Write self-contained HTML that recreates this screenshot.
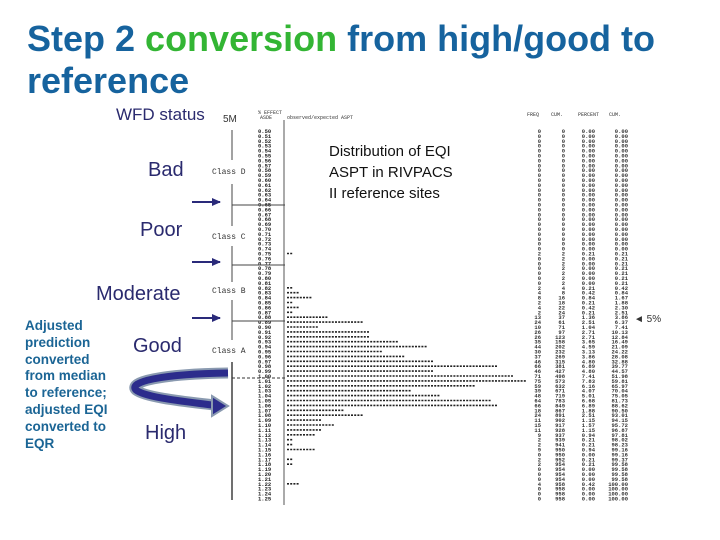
<!DOCTYPE html>
<html><head><meta charset="utf-8"><style>
body{margin:0;width:720px;height:540px;background:#fff;overflow:hidden;font-family:"Liberation Sans",sans-serif;position:relative}
.a{position:absolute;white-space:nowrap}
.t{font-weight:bold;font-size:36px;color:#16639e;line-height:42px}
.w{color:#2a2a6e;font-size:20px}
</style></head><body>
<div class="a t" style="left:27px;top:18px">Step 2 <span style="color:#33b534">conversion</span> from high/good to<br>reference</div>
<div class="a w" style="left:116px;top:105px;font-size:17px">WFD status</div>
<div class="a w" style="left:148px;top:159px">Bad</div>
<div class="a w" style="left:140px;top:219px">Poor</div>
<div class="a w" style="left:96px;top:283px">Moderate</div>
<div class="a w" style="left:133px;top:335px">Good</div>
<div class="a w" style="left:145px;top:422px">High</div>
<div class="a" style="left:25px;top:318px;font-size:13.5px;line-height:16.8px;font-weight:bold;color:#1b6595">Adjusted<br>prediction<br>converted<br>from median<br>to reference;<br>adjusted EQI<br>converted to<br>EQR</div>
<div class="a" style="left:329px;top:141px;font-size:15px;line-height:21px;color:#111">Distribution of EQI<br>ASPT in RIVPACS<br>II reference sites</div>
<div class="a" style="left:634px;top:314px;font-size:10px;color:#333">◄ 5%</div>
<svg id="c" class="a" style="left:0;top:0" width="720" height="540"></svg>
<script>
const values=[];for(let i=50;i<=125;i++)values.push((i/100).toFixed(2));
const counts=[0,0,0,0,0,0,0,0,0,0,0,0,0,0,0,0,0,0,0,0,0,0,0,0,0,2,0,0,0,0,0,0,2,4,8,2,4,2,13,24,10,26,26,35,44,30,37,46,66,46,71,75,59,39,48,64,66,18,24,11,15,11,9,2,2,9,0,2,2,0,0,0,4,0,0,0];
const classNames=["Class D","Class C","Class B","Class A"];
const classY=[171,236,290,350];
const arrowY=[202,262,318];
const svg=document.getElementById('c');const NS='http://www.w3.org/2000/svg';
function mk(t,a,p){const e=document.createElementNS(NS,t);for(const k in a)e.setAttribute(k,a[k]);(p||svg).appendChild(e);return e;}
const y0=131,rowH=4.9,x0=287,starW=3.2;
const yS=i=>y0+i*rowH, xS=c=>x0+c*starW;
svg.innerHTML='<defs><marker id="ah" markerUnits="userSpaceOnUse" markerWidth="9" markerHeight="8" refX="8" refY="4" orient="auto"><path d="M0,0L9,4L0,8z" fill="#2a2a7a"/></marker></defs>';
let h=mk('text',{x:258,y:114,'font-size':5,'font-family':'Liberation Mono',fill:'#333'});h.textContent='% EFFECT';
h=mk('text',{x:260,y:119,'font-size':5,'font-family':'Liberation Mono',fill:'#333'});h.textContent='ASDE';
h=mk('text',{x:287,y:119,'font-size':5,'font-family':'Liberation Mono',fill:'#333'});h.textContent='observed/expected ASPT';
const hdr=[['FREQ',527],['CUM.',551],['PERCENT',578],['CUM.',609]];
hdr.forEach(d=>{const e=mk('text',{x:d[1],y:116,'font-size':5,'font-family':'Liberation Mono',fill:'#333'});e.textContent=d[0];
});
mk('line',{x1:284,y1:120,x2:284,y2:505,stroke:'#555','stroke-width':1});
const total=counts.reduce((a,b)=>a+b,0);let cum=0;
values.forEach((v,i)=>{
 const y=yS(i);
 const t=mk('text',{x:258,y:y+2,'font-size':5.5,'font-family':'Liberation Mono','font-weight':'bold',fill:'#222'});t.textContent=v;
 
 const c=counts[i];cum+=c;
 if(c>0){const b=mk('line',{x1:xS(0),y1:y,x2:xS(c),y2:y,stroke:'#222','stroke-width':1.6,'stroke-dasharray':'2 1.2'});
  }
 const cols=[[c,541],[cum,565],[(100*c/total).toFixed(2),595],[(100*cum/total).toFixed(2),628]];
 cols.forEach(d=>{const e=mk('text',{x:d[1],y:y+2,'font-size':5.5,'font-family':'Liberation Mono','font-weight':'bold',fill:'#333','text-anchor':'end'});e.textContent=d[0];
  });
});
classNames.forEach((n,i)=>{const e=mk('text',{x:212,y:classY[i]+3,'font-size':8,'font-family':'Liberation Mono',fill:'#333'});e.textContent=n;
 });
let e=mk('text',{x:223,y:122,'font-size':10,fill:'#333'});e.textContent='5M';
mk('line',{x1:232,y1:130,x2:232,y2:160,stroke:'#444'});
mk('line',{x1:232,y1:184,x2:232,y2:226,stroke:'#444'});
mk('line',{x1:232,y1:246,x2:232,y2:282,stroke:'#444'});
mk('line',{x1:232,y1:300,x2:232,y2:340,stroke:'#444'});
mk('line',{x1:232,y1:362,x2:232,y2:500,stroke:'#111','stroke-width':1.2});
arrowY.forEach(y=>{const a=mk('line',{x1:192,y1:y,x2:220,y2:y,stroke:'#2a2a7a','stroke-width':2,'marker-end':'url(#ah)'});
 
 mk('line',{x1:232,y1:y+3,x2:285,y2:y+3,stroke:'#444'});});
mk('line',{x1:232,y1:378,x2:285,y2:378,stroke:'#333','stroke-dasharray':'3 2'});
const ca=mk('path',{d:'M228,373 C160,374 128,382 136,390 C146,398 190,402 214,405',fill:'none',stroke:'#8a9ab0','stroke-width':11});
mk('path',{d:'M228,373 C160,374 128,382 136,390 C146,398 190,402 212,405',fill:'none',stroke:'#2c2c8c','stroke-width':7});
mk('path',{d:'M212,396 L228,406 L212,416z',fill:'#2c2c8c',stroke:'#8a9ab0','stroke-width':2});

</script>
</body></html>
